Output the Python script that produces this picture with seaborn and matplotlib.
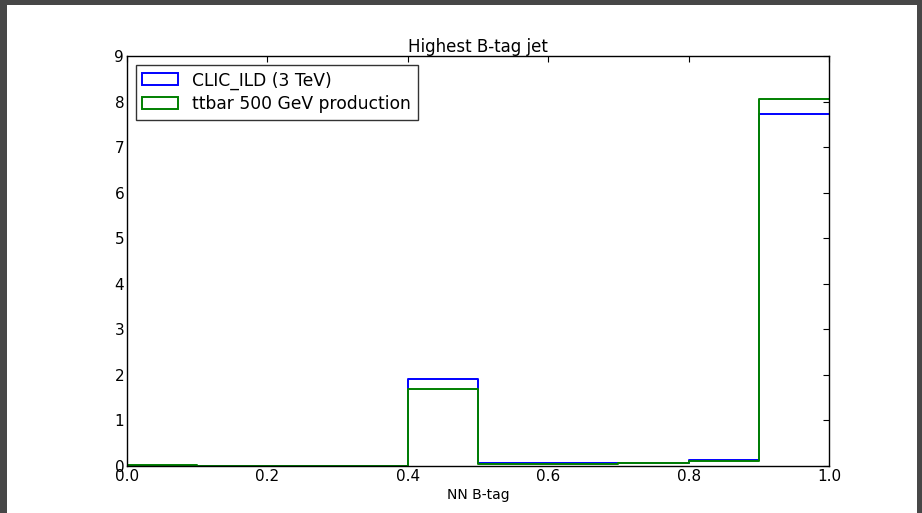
import matplotlib
matplotlib.use('Agg')
import matplotlib.pyplot as plt
from matplotlib.patches import Patch, Rectangle
import numpy as np
import pandas as pd
import seaborn as sns

# ── datos (densidad por bin) ──
bin_edges = [0.0, 0.1, 0.2, 0.3, 0.4, 0.5, 0.6, 0.7, 0.8, 0.9, 1.0]
clic_density = [0.01, 0.0, 0.0, 0.0, 1.92, 0.06, 0.06, 0.07, 0.14, 7.72]
ttbar_density = [0.02, 0.0, 0.0, 0.0, 1.70, 0.04, 0.04, 0.07, 0.10, 8.05]
series_labels = ['CLIC_ILD (3 TeV)', 'ttbar 500 GeV production']
series_colors = ['#0000ff', '#008000']
x_ticks = [0.0, 0.2, 0.4, 0.6, 0.8, 1.0]
y_ticks = list(range(0, 10))

sns.set_style('white')
plt.rcParams['font.family'] = ['DejaVu Sans']
plt.rcParams['text.color'] = 'black'
plt.rcParams['axes.labelcolor'] = 'black'

edges = np.array(bin_edges)
centers = (edges[:-1] + edges[1:]) / 2

fig = plt.figure(figsize=(9.22, 5.13), dpi=100, facecolor='#474747')
# fondo blanco de la ventana (captura de pantalla)
fig.patches.append(Rectangle((7 / 922, 0), 910 / 922, 508 / 513,
                             transform=fig.transFigure, facecolor='white',
                             edgecolor='none', zorder=-10))
ax = fig.add_axes([127 / 922, 47 / 513, 702 / 922, 410 / 513])
ax.set_facecolor('white')

for vals, col in zip([clic_density, ttbar_density], series_colors):
    df = pd.DataFrame({'x': centers, 'w': vals})
    sns.histplot(data=df, x='x', weights='w', bins=bin_edges, element='step',
                 fill=False, color=col, linewidth=1.4, ax=ax)

ax.set_xlim(0, 1)
ax.set_ylim(0, 9)
ax.set_xticks(x_ticks)
ax.set_xticklabels([f'{t:.1f}' for t in x_ticks])
ax.set_yticks(y_ticks)
ax.tick_params(direction='in', length=4, width=0.8, labelsize=11, pad=2,
               top=True, right=True, colors='black')
for s in ax.spines.values():
    s.set_color('black')
    s.set_linewidth(1.0)

ax.set_title('Highest B-tag jet', fontsize=12, pad=3, color='black')
ax.set_xlabel('NN B-tag', fontsize=10, labelpad=3, color='black')
ax.set_ylabel('')

handles = [Patch(facecolor='none', edgecolor=c, linewidth=1.4) for c in series_colors]
leg = ax.legend(handles, series_labels, loc='upper left', fontsize=12.3,
                frameon=True, fancybox=False, borderaxespad=0.5,
                handlelength=2.1, handletextpad=0.8, labelspacing=0.3,
                labelcolor='black')
leg.get_frame().set_edgecolor('black')
leg.get_frame().set_linewidth(1.0)

fig.savefig('out.png', dpi=100, facecolor=fig.get_facecolor())
